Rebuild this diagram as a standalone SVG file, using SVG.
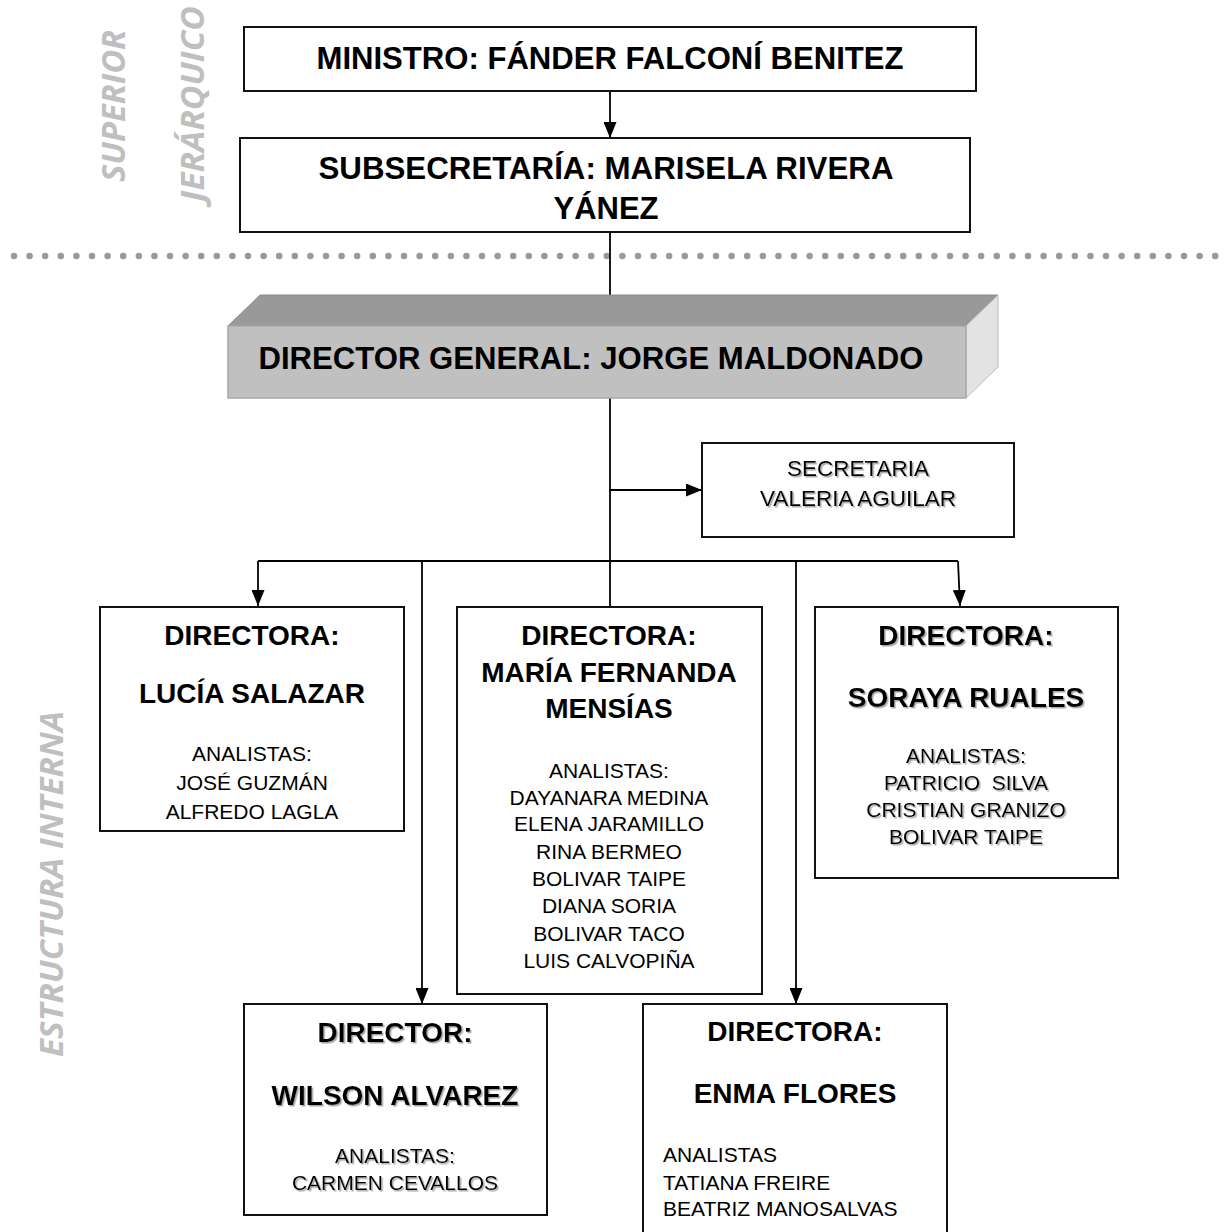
<svg xmlns="http://www.w3.org/2000/svg" width="1226" height="1232" viewBox="0 0 1226 1232">
  <defs>
    <style>
      .box { fill: #ffffff; stroke: #111111; stroke-width: 2; }
      .conn { fill: none; stroke: #000000; stroke-width: 1.8; }
      .t-top { font-family: "Liberation Sans", Arial, sans-serif; font-weight: bold; font-size: 31px; fill: #000; text-anchor: middle; }
      .t-head { font-family: "Liberation Sans", Arial, sans-serif; font-weight: bold; font-size: 28px; fill: #000; text-anchor: middle; }
      .t-body { font-family: "Liberation Sans", Arial, sans-serif; font-size: 21px; fill: #000; text-anchor: middle; }
      .t-sec { font-family: "Liberation Sans", Arial, sans-serif; font-size: 22.5px; fill: #000; text-anchor: middle; }
      .left { text-anchor: start; }
      .side { font-family: "Open Sans", "DejaVu Sans", sans-serif; font-weight: bold; font-style: italic; font-size: 33px; fill: #bfbfbf; text-anchor: middle; }
      .shadow { filter: url(#txtShadow); }
    </style>
    <filter id="txtShadow" x="-5%" y="-20%" width="110%" height="140%">
      <feDropShadow dx="1.5" dy="1.5" stdDeviation="0.6" flood-color="#808080" flood-opacity="0.7"/>
    </filter>
    <marker id="arrow" markerUnits="userSpaceOnUse" markerWidth="16" markerHeight="13" refX="16" refY="6.5" orient="auto">
      <path d="M0,0 L16,6.5 L0,13 z" fill="#000"/>
    </marker>
  </defs>

  <rect width="1226" height="1232" fill="#ffffff"/>

  <!-- side section labels -->
  <g id="labels">
    <text class="side" transform="translate(125,106) rotate(-90)" textLength="152" lengthAdjust="spacingAndGlyphs">SUPERIOR</text>
    <text class="side" transform="translate(204,104) rotate(-90)" textLength="196" lengthAdjust="spacingAndGlyphs">JERÁRQUICO</text>
    <text class="side" transform="translate(63,884) rotate(-90)" textLength="346" lengthAdjust="spacingAndGlyphs">ESTRUCTURA INTERNA</text>
  </g>

  <!-- dotted separator between the two levels -->
  <line id="separator" x1="14" y1="256" x2="1216" y2="256" stroke="#999999" stroke-width="6.5" stroke-linecap="round" stroke-dasharray="0 15.6"/>

  <!-- connectors -->
  <g id="connectors">
    <path class="conn" d="M610,91 L610,138" marker-end="url(#arrow)"/>
    <path class="conn" d="M610,232 L610,326" marker-end="url(#arrow)"/>
    <path class="conn" d="M610,398 L610,607"/>
    <path class="conn" d="M610,490 L702,490" marker-end="url(#arrow)"/>
    <path class="conn" d="M258,561 L958,561"/>
    <path class="conn" d="M258,561 L258,606" marker-end="url(#arrow)"/>
    <path class="conn" d="M958,561 L960,606" marker-end="url(#arrow)"/>
    <path class="conn" d="M422,561 L422,1004" marker-end="url(#arrow)"/>
    <path class="conn" d="M796,561 L796,1004" marker-end="url(#arrow)"/>
  </g>

  <g id="ministro">
    <rect class="box" x="244" y="27" width="732" height="64"/>
    <text class="t-top" x="610" y="69" textLength="587" lengthAdjust="spacingAndGlyphs">MINISTRO: FÁNDER FALCONÍ BENITEZ</text>
  </g>

  <g id="subsecretaria">
    <rect class="box" x="240" y="138" width="730" height="94"/>
    <text class="t-top" x="606" y="179" textLength="575" lengthAdjust="spacingAndGlyphs">SUBSECRETARÍA: MARISELA RIVERA</text>
    <text class="t-top" x="606" y="219">YÁNEZ</text>
  </g>

  <!-- director general drawn as a bevelled 3D slab -->
  <g id="director-general">
    <path d="M228,326 L260,295 L998,295 L966,326 Z" fill="#999999" stroke="#8a8a8a" stroke-width="1"/>
    <path d="M966,326 L998,295 L998,367 L966,398 Z" fill="#e3e3e3" stroke="#bdbdbd" stroke-width="1"/>
    <rect x="228" y="326" width="738" height="72" fill="#c0c0c0" stroke="#a8a8a8" stroke-width="1.5"/>
    <text class="t-top" x="591" y="369" textLength="665" lengthAdjust="spacingAndGlyphs">DIRECTOR GENERAL: JORGE MALDONADO</text>
  </g>

  <g id="secretaria">
    <rect class="box" x="702" y="443" width="312" height="94"/>
    <text class="t-sec shadow" x="858" y="476">SECRETARIA</text>
    <text class="t-sec shadow" x="858" y="506">VALERIA AGUILAR</text>
  </g>

  <g id="lucia-salazar">
    <rect class="box" x="100" y="607" width="304" height="224"/>
    <text class="t-head" x="252" y="645">DIRECTORA:</text>
    <text class="t-head" x="252" y="703">LUCÍA SALAZAR</text>
    <text class="t-body" x="252" y="761">ANALISTAS:</text>
    <text class="t-body" x="252" y="790">JOSÉ GUZMÁN</text>
    <text class="t-body" x="252" y="819">ALFREDO LAGLA</text>
  </g>

  <g id="maria-fernanda-mensias">
    <rect class="box" x="457" y="607" width="305" height="387"/>
    <text class="t-head" x="609" y="645">DIRECTORA:</text>
    <text class="t-head" x="609" y="682">MARÍA FERNANDA</text>
    <text class="t-head" x="609" y="718">MENSÍAS</text>
    <text class="t-body" x="609" y="778">ANALISTAS:</text>
    <text class="t-body" x="609" y="805">DAYANARA MEDINA</text>
    <text class="t-body" x="609" y="831">ELENA JARAMILLO</text>
    <text class="t-body" x="609" y="859">RINA BERMEO</text>
    <text class="t-body" x="609" y="886">BOLIVAR TAIPE</text>
    <text class="t-body" x="609" y="913">DIANA SORIA</text>
    <text class="t-body" x="609" y="941">BOLIVAR TACO</text>
    <text class="t-body" x="609" y="968">LUIS CALVOPIÑA</text>
  </g>

  <g id="soraya-ruales">
    <rect class="box" x="815" y="607" width="303" height="271"/>
    <text class="t-head shadow" x="966" y="645">DIRECTORA:</text>
    <text class="t-head shadow" x="966" y="707">SORAYA RUALES</text>
    <text class="t-body shadow" x="966" y="763">ANALISTAS:</text>
    <text class="t-body shadow" x="966" y="790" xml:space="preserve">PATRICIO  SILVA</text>
    <text class="t-body shadow" x="966" y="817">CRISTIAN GRANIZO</text>
    <text class="t-body shadow" x="966" y="844">BOLIVAR TAIPE</text>
  </g>

  <g id="wilson-alvarez">
    <rect class="box" x="244" y="1004" width="303" height="211"/>
    <text class="t-head shadow" x="395" y="1042">DIRECTOR:</text>
    <text class="t-head shadow" x="395" y="1105">WILSON ALVAREZ</text>
    <text class="t-body shadow" x="395" y="1163">ANALISTAS:</text>
    <text class="t-body shadow" x="395" y="1190">CARMEN CEVALLOS</text>
  </g>

  <g id="enma-flores">
    <rect class="box" x="643" y="1004" width="304" height="240"/>
    <text class="t-head" x="795" y="1041">DIRECTORA:</text>
    <text class="t-head" x="795" y="1103">ENMA FLORES</text>
    <text class="t-body left" x="663" y="1162">ANALISTAS</text>
    <text class="t-body left" x="663" y="1190">TATIANA FREIRE</text>
    <text class="t-body left" x="663" y="1216">BEATRIZ MANOSALVAS</text>
  </g>
</svg>
